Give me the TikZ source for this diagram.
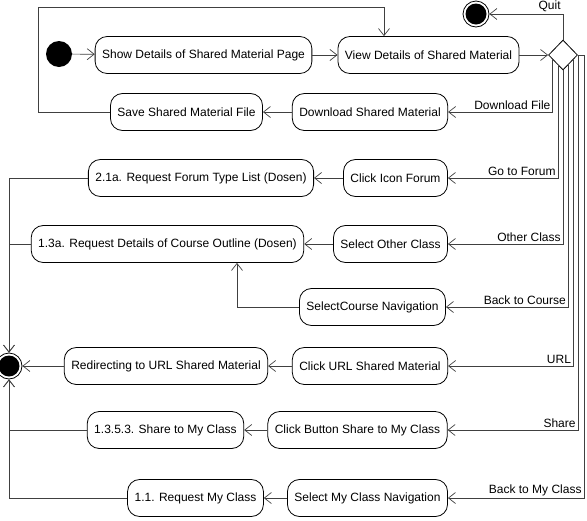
\documentclass[tikz,border=0pt]{standalone}
\usepackage{fontspec}
\setmainfont{Liberation Sans}
\usetikzlibrary{shapes.geometric,arrows.meta,calc}

\tikzset{
  act/.style={draw, rounded corners=12pt, minimum height=37pt, inner xsep=7pt, line width=0.8pt, font=\fontsize{12}{14}\selectfont},
  startdot/.style={circle, fill=black, minimum size=26pt, inner sep=0pt},
  enddot/.style={circle, draw, line width=0.8pt, minimum size=26pt, inner sep=0pt,
    path picture={\fill[black] (path picture bounding box.center) circle (10.5pt);}},
  decision/.style={diamond, draw, line width=0.8pt, minimum width=29pt, minimum height=30pt, inner sep=0pt},
  flow/.style={draw=black!75, line width=0.7pt, -{Straight Barb[length=7pt,width=11pt]}},
  lbl/.style={font=\fontsize{12}{14}\selectfont, inner sep=2pt, anchor=south east}
}

\begin{document}
\begin{tikzpicture}[x=1pt, y=-1pt]
        % \draw[help lines, gray!40] (0,0) grid[step=50] (587,520);
        \useasboundingbox (0,0) rectangle (587,520);

        % top row
        \node[startdot] (start) at (59,54) {};
        \node[act] (show) at (203.5,55) {Show Details of Shared Material Page};
        \node[act] (view) at (428.5,55) {View Details of Shared Material};
        \node[decision] (dia) at (563,55) {};
        \node[enddot] (fintop) at (476,14) {};

        \node[act] (dl) at (370,112) {Download Shared Material};
        \node[act] (save) at (186.5,112) {Save Shared Material File};

        \node[act] (forum) at (395.5,178) {Click Icon Forum};
        \node[act] (forumreq) at (201,178) {2.1a. Request Forum Type List (Dosen)};

        \node[act] (other) at (390.5,244) {Select Other Class};
        \node[act] (outline) at (167.5,244) {1.3a. Request Details of Course Outline (Dosen)};
        \node[act] (nav) at (372.5,307) {SelectCourse Navigation};

        % bottom rows
        \node[enddot] (finleft) at (9,366) {};
        \node[act] (clickurl) at (370,366) {Click URL Shared Material};
        \node[act] (url) at (166,366) {Redirecting to URL Shared Material};

        \node[act] (clickshare) at (357.5,430) {Click Button Share to My Class};
        \node[act] (share) at (165.5,430) {1.3.5.3. Share to My Class};

        \node[act] (selclass) at (367.5,498) {Select My Class Navigation};
        \node[act] (reqclass) at (195.5,498) {1.1. Request My Class};

        \draw[flow] (start) -- (show);
        \draw[flow] (show) -- (view);
        \draw[flow] (view) -- (dia);
        \draw[flow] (dia.north) |- node[lbl] {Quit} (fintop);

        % branches out of the decision
        \draw[flow] ($(dia.south)!0.69!(dia.west)$) |- node[lbl] {Download File} (dl);
        \draw[flow] ($(dia.south)!0.345!(dia.west)$) |- node[lbl] {Go to Forum} (forum);
        \draw[flow] (dia.south) |- node[lbl] {Other Class} (other);
        \draw[flow] ($(dia.south)!0.345!(dia.east)$) |- node[lbl] {Back to Course} (nav);
        \draw[flow] ($(dia.south)!0.69!(dia.east)$) |- node[lbl] {URL} (clickurl);
        \draw[flow] (dia.east) |- node[lbl] {Share} (clickshare);
        \draw[flow] (dia.east) -- ++(6,0) |- node[lbl] {Back to My Class} (selclass);

        \draw[flow] (dl) -- (save);
        \draw[flow] (save.west) -- ++(-72,0) -- ++(0,-105) -| ([xshift=-44.5pt]view.north);

        \draw[flow] (forum) -- (forumreq);
        \draw[flow] (other) -- (outline);
        \draw[flow] (nav.west) -| ([xshift=69.5pt]outline.south);
        \draw[flow] (clickurl) -- (url);
        \draw[flow] (clickshare) -- (share);
        \draw[flow] (selclass) -- (reqclass);

        % into the left final state
        \draw[flow] (forumreq.west) -| (finleft.north);
        \draw[flow] (outline.west) -| (finleft.north);
        \draw[flow] (url) -- (finleft);
        \draw[flow] (share.west) -| (finleft.south);
        \draw[flow] (reqclass.west) -| (finleft.south);
      \end{tikzpicture}
\end{document}
